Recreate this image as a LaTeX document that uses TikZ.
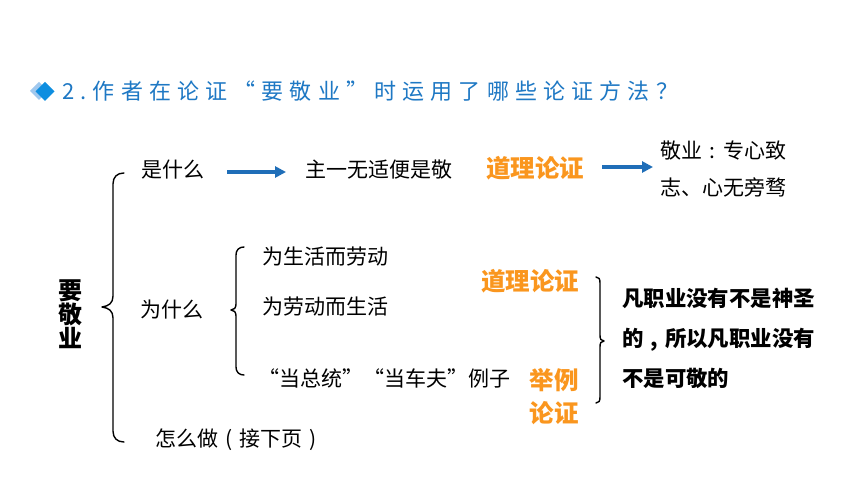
\documentclass[tikz,border=0pt]{standalone}
\usepackage{fontspec}
\setmainfont{Noto Sans CJK SC}
\usetikzlibrary{arrows.meta}
\definecolor{titleblue}{RGB}{30,120,196}
\definecolor{arrblue}{RGB}{31,110,184}
\definecolor{dia}{RGB}{14,142,224}
\definecolor{dialight}{RGB}{160,200,238}
\definecolor{orng}{RGB}{250,150,30}
\newcommand{\cpunct}[1]{\makebox[1em][c]{#1}}
\tikzset{
  txt/.style={inner sep=0pt, font=\fontsize{21}{24}\selectfont, text=black},
  orangebig/.style={inner sep=0pt, font=\fontsize{24.5}{33}\bfseries\selectfont, text=orng, align=center},
  arr/.style={draw=arrblue, line width=4pt, -{Triangle[length=11pt,width=11pt]}},
  bracestyle/.style={draw=black, line width=1.4pt, line cap=round, line join=round},
}
\begin{document}
\begin{tikzpicture}[x=1pt,y=-1pt]
\useasboundingbox (0,0) rectangle (860,484);
\fill[white] (0,0) rectangle (860,484);
% title diamonds
\fill[dialight] (39,82) -- (48,91) -- (39,100) -- (30,91) -- cycle;
\fill[dia] (45,82) -- (54.5,91.5) -- (45,101) -- (35.5,91.5) -- cycle;
\node[inner sep=0pt, anchor=west, text=titleblue, font=\fontsize{22}{24}\selectfont\addfontfeature{LetterSpace=28}] (title) at (62,91) {2.作者在论证“要敬业”时运用了哪些论证方法？};
% left big brace
\draw[bracestyle] (124,173) .. controls (117,173) and (113,177) .. (113,184) -- (113,296) .. controls (113,303) and (109,306) .. (102,307)
  .. controls (109,308) and (113,311) .. (113,318) -- (113,431) .. controls (113,438) and (117,442) .. (124,442);
% second brace
\draw[bracestyle] (244,247) .. controls (239,247) and (236,250) .. (236,255) -- (236,304) .. controls (236,308) and (234,310) .. (231,310)
  .. controls (234,310) and (236,312) .. (236,316) -- (236,367) .. controls (236,372) and (239,375) .. (244,375);
% right brace
\draw[bracestyle] (596,277) .. controls (599,277) and (600,279) .. (600,283) -- (600,335) .. controls (600,339) and (601,341) .. (604,341)
  .. controls (601,341) and (600,343) .. (600,347) -- (600,397) .. controls (600,401) and (599,403) .. (596,403);
% texts
\node[inner sep=0pt, font=\fontsize{24}{24}\bfseries\selectfont, align=center] (yjy) at (70,314) {要\\敬\\业};
\node[txt, anchor=west] (shi) at (141,170) {是什么};
\node[txt, anchor=west] (zhu) at (305,170) {主一无适便是敬};
\node[orangebig, anchor=west] (dl1) at (486,168) {道理论证};
\node[txt, anchor=west, align=left, font=\fontsize{21}{37}\selectfont] (jy) at (660,168.5) {敬业\cpunct{:}专心致\\志、心无旁骛};
\node[txt, anchor=west] (wei) at (140,310) {为什么};
\node[txt, anchor=west] (w1) at (262,257) {为生活而劳动};
\node[txt, anchor=west] (w2) at (262,307) {为劳动而生活};
\node[txt, anchor=west] (w3) at (258,378) {“当总统”“当车夫”例子};
\node[orangebig, anchor=west] (dl2) at (481,281) {道理论证};
\node[orangebig] (jl) at (554,396.5) {举例\\论证};
\node[inner sep=0pt, anchor=west, align=left, font=\fontsize{21.4}{40}\bfseries\selectfont] (fz) at (622,338) {凡职业没有不是神圣\\的\cpunct{,}所以凡职业没有\\不是可敬的};
\node[txt, anchor=west] (zen) at (155,440) {怎么做\cpunct{(}接下页\cpunct{)}};
% arrows
\draw[arr, shorten <=23pt, shorten >=19pt] (shi.east |- 0,172) -- (zhu.west |- 0,172);
\draw[arr, shorten <=18pt, shorten >=7pt] (dl1.east |- 0,167) -- (jy.west |- 0,167);
\end{tikzpicture}
\end{document}
